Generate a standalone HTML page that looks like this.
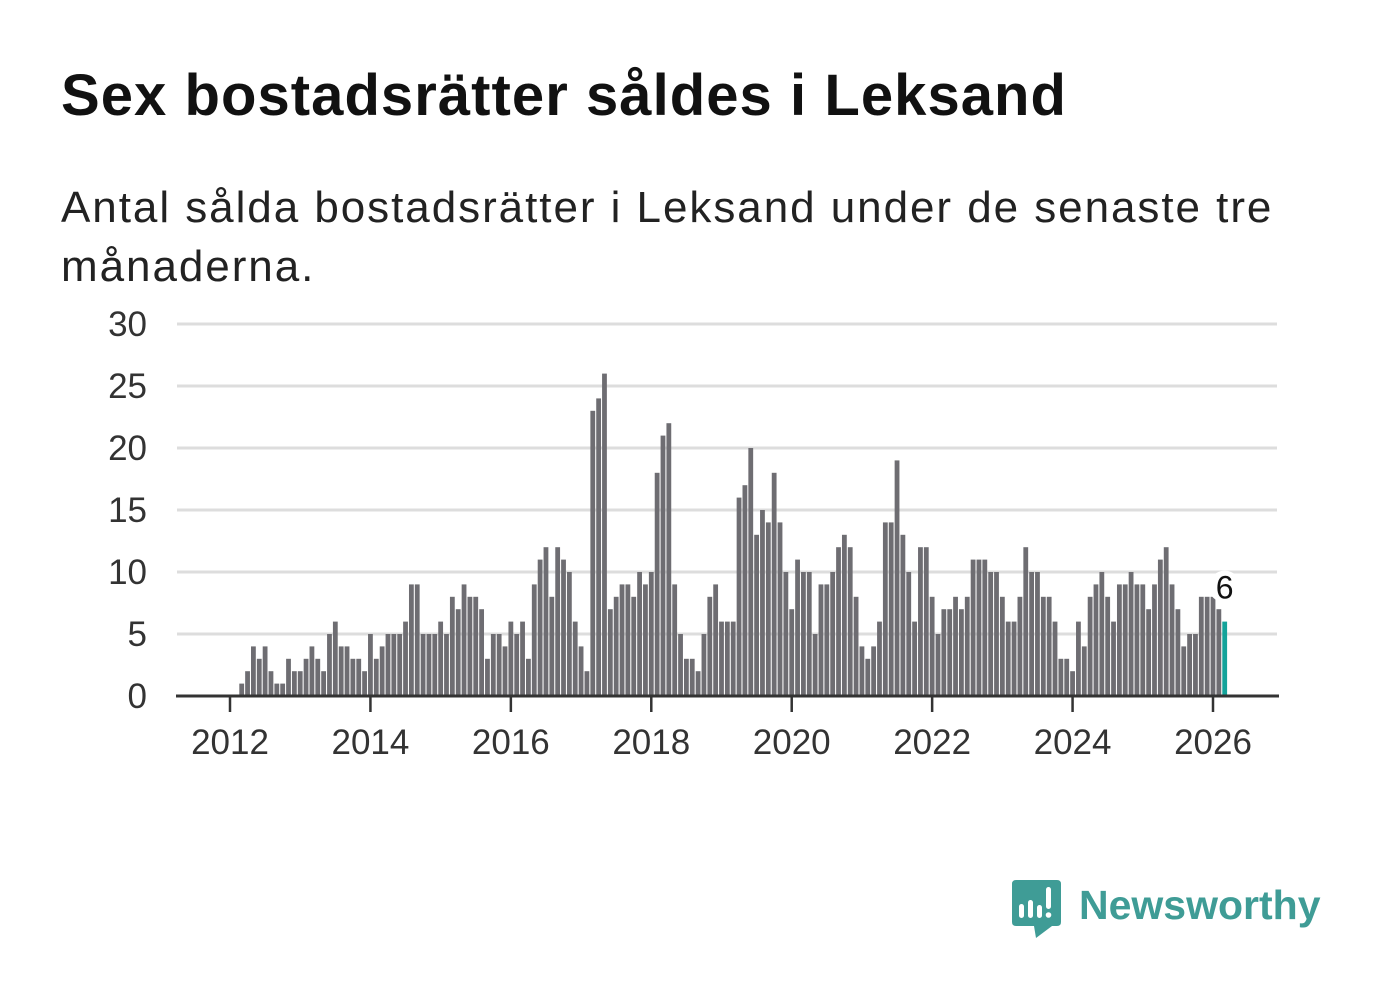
<!DOCTYPE html>
<html><head><meta charset="utf-8">
<style>
html,body{margin:0;padding:0;background:#fff;}
body{width:1382px;height:999px;position:relative;overflow:hidden;font-family:"Liberation Sans",sans-serif;}
#title{position:absolute;left:61px;top:62px;font-size:58px;font-weight:bold;color:#111;margin:0;letter-spacing:1.05px;white-space:nowrap;}
#subtitle{position:absolute;left:61px;top:178px;width:1300px;font-size:44px;line-height:59px;color:#222;margin:0;letter-spacing:1.95px;}
svg{position:absolute;left:0;top:0;}
</style></head>
<body>
<h1 id="title">Sex bostadsrätter såldes i Leksand</h1>
<p id="subtitle">Antal sålda bostadsrätter i Leksand under de senaste tre<br>månaderna.</p>
<svg id="chart" width="1382" height="999">
  <g id="grid"></g>
  <g id="yaxis"></g>
  <g id="bars"></g>
  <g id="xaxis"></g>
  <g id="annot"></g>
</svg>
<svg width="1382" height="999">
  <path d="M1016 880 H1057 Q1061 880 1061 884 V922 Q1061 926 1057 926 H1052 L1036 938 L1034 926 H1016 Q1012 926 1012 922 V884 Q1012 880 1016 880 Z" fill="#3f9c96"/>
  <rect x="1019" y="904" width="5" height="14" rx="2.5" fill="#fff"/>
  <rect x="1028" y="900" width="5" height="18" rx="2.5" fill="#fff"/>
  <rect x="1037" y="905" width="5" height="13" rx="2.5" fill="#fff"/>
  <rect x="1046" y="887" width="5" height="22" rx="2.5" fill="#fff"/>
  <circle cx="1048.5" cy="915" r="2.8" fill="#fff"/>
  <text x="1079" y="919" font-size="41" font-weight="bold" fill="#3f9c96" font-family="Liberation Sans, sans-serif">Newsworthy</text>
</svg>
<script>
const startYear = 2012;
const startMonth = 3;
const values = [1,2,4,3,4,2,1,1,3,2,2,3,4,3,2,5,6,4,4,3,3,2,5,3,4,5,5,5,6,9,9,5,5,5,6,5,8,7,9,8,8,7,3,5,5,4,6,5,6,
3,9,11,12,8,12,11,10,6,4,
2,23,24,26,7,8,9,9,8,10,
9,10,18,21,22,9,5,3,3,2,
5,8,9,6,6,6,16,17,20,13,
15,14,18,14,10,7,11,10,10,5,
9,9,10,12,13,12,8,4,3,4,
6,14,14,19,13,10,6,12,12,8,
5,7,7,8,7,8,11,11,11,10,
10,8,6,6,8,12,10,10,8,8,
6,3,3,2,6,4,8,9,10,8,
6,9,9,10,9,9,7,9,11,12,
9,7,4,5,5,8,8,8,7,6];
const yTicks = [0,5,10,15,20,25,30];
const xTicks = [2012,2014,2016,2018,2020,2022,2024,2026];

const NS = "http://www.w3.org/2000/svg";
const x0 = 230, pxPerYear = (1213-230)/14;
function xScale(yearFrac){ return x0 + (yearFrac-2012)*pxPerYear; }
const yZero = 696, pxPerUnit = (696-324)/30;
function yScale(v){ return yZero - v*pxPerUnit; }
function mk(tag, attrs, parent){ const e=document.createElementNS(NS,tag); for(const k in attrs) e.setAttribute(k,attrs[k]); parent.appendChild(e); return e; }

const grid=document.getElementById('grid'), yax=document.getElementById('yaxis'), bars=document.getElementById('bars'), xax=document.getElementById('xaxis'), ann=document.getElementById('annot');
yTicks.forEach(t=>{
  if(t>0){
    const l=mk('line',{x1:177,x2:1277,y1:yScale(t),y2:yScale(t),stroke:'#dddddd','stroke-width':3},grid);
    
    
  }
  const tx=mk('text',{x:147,y:yScale(t)+12,'text-anchor':'end','font-size':35,fill:'#333'},yax);
  tx.textContent=t;
  
  
});
const bw = 4.8;
values.forEach((v,i)=>{
  const m = startMonth-1+i;
  const cx = xScale(startYear + m/12);
  const last = i===values.length-1;
  const r=mk('rect',{x:cx-bw/2,y:yScale(v),width:bw,height:yZero-yScale(v),fill:last?'#13a39a':'#6e6d72'},bars);
  
  
});
const base=mk('line',{x1:176,x2:1279,y1:yZero,y2:yZero,stroke:'#333','stroke-width':3},xax);


xTicks.forEach(t=>{
  const x=xScale(t);
  mk('line',{x1:x,x2:x,y1:yZero,y2:yZero+16,stroke:'#333','stroke-width':2.5},xax);
  const tx=mk('text',{x:x,y:754,'text-anchor':'middle','font-size':35,fill:'#333'},xax);
  tx.textContent=t;
  
  
});
const li=values.length-1, lx=xScale(startYear+(startMonth-1+li)/12), lv=values[li];
mk('circle',{cx:lx,cy:yScale(lv)-35,r:16,fill:'#fff'},ann);
const lt=mk('text',{x:lx,y:yScale(lv)-23,'text-anchor':'middle','font-size':32,fill:'#111'},ann);
lt.textContent=lv;


</script>
</body></html>
